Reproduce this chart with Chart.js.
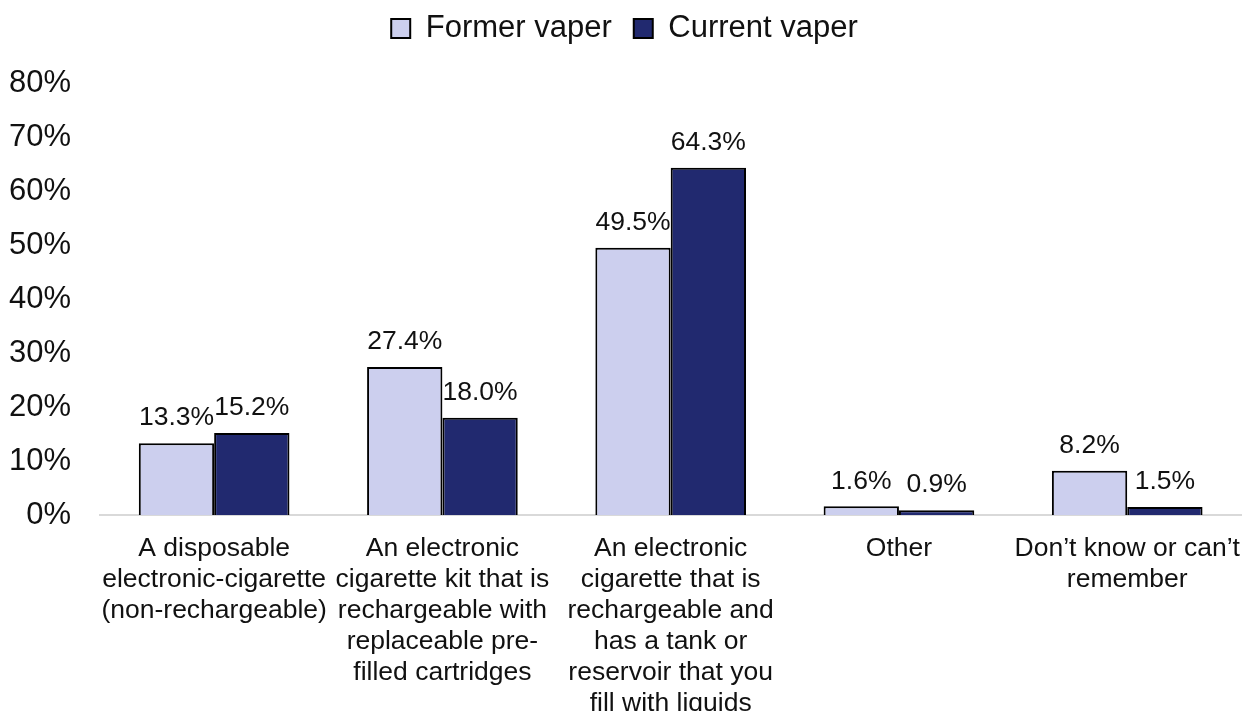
<!DOCTYPE html>
<html>
<head>
<meta charset="utf-8">
<script src="https://cdn.jsdelivr.net/npm/chart.js@4/dist/chart.umd.min.js"></script>
<style>
  body { margin: 0; background: #fff; }
  .chart-container { width: 1250px; height: 711px; }
</style>
</head>
<body>
<div class="chart-container">
  <canvas id="barChart"></canvas>
</div>
<script>
// Chart data
const categories = [
  ["A disposable", "electronic-cigarette", "(non-rechargeable)"],
  ["An electronic", "cigarette kit that is", "rechargeable with", "replaceable pre-", "filled cartridges"],
  ["An electronic", "cigarette that is", "rechargeable and", "has a tank or", "reservoir that you", "fill with liquids"],
  ["Other"],
  ["Don\u2019t know or can\u2019t", "remember"]
];
const formerVaper = [13.3, 27.4, 49.5, 1.6, 8.2];
const currentVaper = [15.2, 18.0, 64.3, 0.9, 1.5];
const yTicks = [0, 10, 20, 30, 40, 50, 60, 70, 80];

const FONT = "'Liberation Sans', Arial, sans-serif";

// draws value labels above each bar
const barLabels = {
  id: 'barLabels',
  afterDatasetsDraw(chart) {
    const ctx = chart.ctx;
    ctx.save();
    ctx.font = "26.5px " + FONT;
    ctx.fillStyle = '#111';
    ctx.textAlign = 'center';
    ctx.textBaseline = 'middle';
    chart.data.datasets.forEach((ds, i) => {
      chart.getDatasetMeta(i).data.forEach((bar, j) => {
        ctx.fillText(ds.data[j].toFixed(1) + '%', bar.x, bar.y - 25);
      });
    });
    ctx.restore();
  }
};

// fixed legend height so the plot starts where it should
const legendHeight = {
  id: 'legendHeight',
  beforeInit(chart) {
    const fit = chart.legend.fit;
    chart.legend.fit = function () {
      fit.call(this);
      this.height = 92;
    };
  }
};

const ctx = document.getElementById('barChart').getContext('2d');
new Chart(ctx, {
  type: 'bar',
  data: {
    labels: categories,
    datasets: [
      {
        label: 'Former vaper',
        data: formerVaper,
        backgroundColor: '#CCCFEE',
        borderColor: '#000',
        borderWidth: 2
      },
      {
        label: 'Current vaper',
        data: currentVaper,
        backgroundColor: '#21296F',
        borderColor: '#000',
        borderWidth: 2
      }
    ]
  },
  plugins: [barLabels, legendHeight],
  options: {
    responsive: true,
    maintainAspectRatio: false,
    animation: false,
    layout: { padding: { left: 0, right: 1, top: -9, bottom: 0 } },
    datasets: {
      bar: { categoryPercentage: 0.66, barPercentage: 1.0 }
    },
    scales: {
      x: {
        grid: { display: false },
        border: { display: true, color: '#D9D9D9', width: 2 },
        ticks: {
          color: '#111',
          font: { family: FONT, size: 26.5, lineHeight: 1.17 },
          maxRotation: 0,
          autoSkip: false,
          padding: 10
        },
        afterFit(scale) { scale.height = 196; }
      },
      y: {
        min: 0,
        max: 80,
        grid: { display: false, drawTicks: false },
        border: { display: false },
        afterBuildTicks(scale) {
          scale.ticks = yTicks.map(v => ({ value: v }));
        },
        ticks: {
          color: '#111',
          font: { family: FONT, size: 31 },
          padding: 29,
          callback: v => v + '%'
        },
        afterFit(scale) { scale.width = 100; }
      }
    },
    plugins: {
      tooltip: { enabled: false },
      legend: {
        position: 'top',
        labels: {
          color: '#111',
          font: { family: FONT, size: 31 },
          boxWidth: 19,
          boxHeight: 19,
          padding: 22
        }
      }
    }
  }
});
</script>
</body>
</html>
